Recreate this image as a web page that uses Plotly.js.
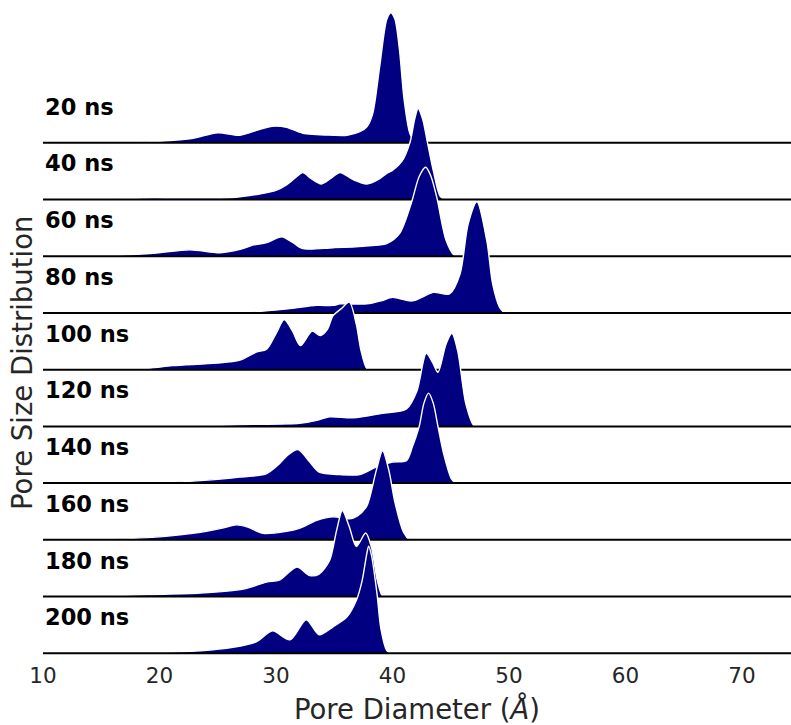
<!DOCTYPE html>
<html>
<head>
<meta charset="utf-8">
<script src="https://cdn.plot.ly/plotly-3.0.1.min.js"></script>
<style>
  html, body { margin: 0; padding: 0; background: #ffffff; }
  #chart { width: 791px; height: 725px; }
</style>
</head>
<body>
<div id="chart"></div>
<script>
// Simulation snapshots, top row first
const timeLabels = ['20 ns', '40 ns', '60 ns', '80 ns', '100 ns', '120 ns', '140 ns', '160 ns', '180 ns', '200 ns'];

// Kernel density estimates of the pore diameter (Å) at each snapshot
const dia20  = [15.0, 17.5, 20.0, 22.9, 25.0, 26.9, 28.5, 29.7, 30.9, 32.3, 34.9, 36.1, 37.2, 37.8, 38.3, 38.9, 39.5, 39.85, 40.2, 40.6, 41.0, 41.5, 42.0];
const kde20  = [0, 0.001, 0.003, 0.009, 0.020, 0.015, 0.026, 0.033, 0.031, 0.019, 0.015, 0.015, 0.022, 0.032, 0.058, 0.152, 0.246, 0.260, 0.248, 0.186, 0.086, 0.018, 0];

const dia40  = [15.0, 18.6, 22.0, 26.3, 28.6, 30.0, 30.9, 31.7, 32.3, 33.0, 33.9, 34.7, 35.5, 36.6, 37.8, 38.8, 39.5, 40.0, 40.8, 41.5, 41.9, 42.2, 42.6, 43.0, 43.5, 44.1, 44.5];
const kde40  = [0, 0.003, 0.003, 0.004, 0.011, 0.018, 0.029, 0.044, 0.054, 0.042, 0.031, 0.042, 0.054, 0.040, 0.031, 0.040, 0.052, 0.058, 0.076, 0.114, 0.160, 0.182, 0.160, 0.114, 0.058, 0.006, 0];

const dia60  = [14.0, 16.6, 19.5, 22.6, 25.2, 27.0, 28.0, 29.2, 30.5, 31.4, 32.3, 34.9, 37.5, 39.5, 40.6, 41.6, 42.3, 42.85, 43.3, 43.8, 44.6, 45.3, 45.6];
const kde60  = [0, 0.002, 0.006, 0.013, 0.007, 0.014, 0.022, 0.027, 0.039, 0.028, 0.015, 0.017, 0.020, 0.025, 0.045, 0.105, 0.160, 0.178, 0.160, 0.118, 0.032, 0.002, 0];

const dia80  = [24.0, 28.0, 31.0, 33.5, 34.9, 35.5, 37.8, 39.0, 40.0, 41.7, 43.5, 44.9, 45.8, 46.5, 47.25, 48.1, 48.6, 49.2, 49.6];
const kde80  = [0, 0.002, 0.008, 0.015, 0.015, 0.018, 0.018, 0.024, 0.031, 0.024, 0.041, 0.038, 0.078, 0.178, 0.222, 0.144, 0.058, 0.011, 0];

const dia100 = [16.0, 19.2, 21.1, 24.9, 26.9, 28.3, 29.2, 30.0, 30.7, 31.4, 32.1, 33.1, 33.8, 34.4, 34.9, 35.6, 36.3, 36.9, 37.3, 37.8, 38.1];
const kde100 = [0, 0.003, 0.008, 0.013, 0.019, 0.035, 0.041, 0.072, 0.100, 0.078, 0.048, 0.077, 0.068, 0.080, 0.108, 0.122, 0.135, 0.090, 0.038, 0.002, 0];

const dia120 = [20.0, 23.5, 28.0, 32.0, 33.5, 34.6, 36.6, 39.1, 41.2, 42.1, 42.9, 43.5, 43.9, 44.6, 45.1, 45.6, 46.3, 47.0, 47.2];
const kde120 = [0, 0.001, 0.004, 0.006, 0.012, 0.019, 0.017, 0.026, 0.035, 0.071, 0.146, 0.125, 0.108, 0.165, 0.186, 0.151, 0.045, 0.001, 0];

const dia140 = [18.0, 20.6, 23.5, 25.7, 26.9, 28.0, 29.2, 30.3, 31.0, 31.9, 32.9, 33.7, 35.5, 37.2, 38.6, 40.0, 41.2, 41.7, 42.3, 42.7, 43.1, 43.5, 43.9, 44.4, 45.05, 45.4];
const kde140 = [0, 0.001, 0.005, 0.009, 0.012, 0.014, 0.019, 0.039, 0.056, 0.067, 0.042, 0.022, 0.017, 0.017, 0.032, 0.042, 0.045, 0.072, 0.114, 0.160, 0.180, 0.160, 0.114, 0.058, 0.009, 0];

const dia160 = [14.0, 17.7, 20.5, 23.5, 25.5, 26.6, 27.5, 28.9, 30.9, 32.0, 33.5, 34.9, 36.3, 37.0, 37.8, 38.6, 39.15, 39.7, 40.2, 40.9, 41.4];
const kde160 = [0, 0.003, 0.007, 0.015, 0.024, 0.030, 0.026, 0.013, 0.017, 0.023, 0.039, 0.046, 0.042, 0.048, 0.068, 0.138, 0.178, 0.138, 0.076, 0.018, 0];

const dia180 = [12.0, 14.9, 19.0, 23.5, 27.2, 29.2, 30.3, 31.8, 32.9, 33.7, 34.6, 35.2, 35.7, 36.3, 36.9, 37.7, 38.2, 38.7, 39.1, 39.3];
const kde180 = [0, 0.001, 0.004, 0.007, 0.015, 0.029, 0.033, 0.059, 0.042, 0.045, 0.072, 0.132, 0.172, 0.139, 0.100, 0.127, 0.098, 0.032, 0.002, 0];

const dia200 = [15.0, 19.2, 23.5, 26.3, 28.3, 29.7, 31.2, 32.6, 33.7, 34.9, 36.1, 36.9, 37.4, 37.8, 37.95, 38.2, 38.5, 38.7, 39.0, 39.5, 39.8];
const kde200 = [0, 0.001, 0.005, 0.012, 0.023, 0.045, 0.027, 0.067, 0.037, 0.053, 0.073, 0.106, 0.146, 0.200, 0.214, 0.196, 0.150, 0.114, 0.050, 0.006, 0];

const diameters = [dia20, dia40, dia60, dia80, dia100, dia120, dia140, dia160, dia180, dia200];
const densities = [kde20, kde40, kde60, kde80, kde100, kde120, kde140, kde160, kde180, kde200];

const xTicks = [10, 20, 30, 40, 50, 60, 70];

// Layout of the ridges
const X_MIN = 10, X_MAX = 74.21;
const ROW_STEP = 0.11346;          // vertical distance between neighbouring baselines
const LABEL_RISE = 0.072;          // label height above its baseline
const FILL = '#000080';
const nRows = timeLabels.length;

const traces = [];
const annotations = [];

for (let i = 0; i < nRows; i++) {
  const base = (nRows - 1 - i) * ROW_STEP;
  const xs = diameters[i];
  const ys = densities[i].map(d => base + d);

  // filled ridge with a thin white edge
  traces.push({
    type: 'scatter', mode: 'lines',
    x: xs, y: ys,
    fill: 'toself', fillcolor: FILL,
    line: { color: '#ffffff', width: 1.4, shape: 'spline', smoothing: 0.8 },
    hoverinfo: 'skip', showlegend: false
  });

  // baseline of this ridge
  traces.push({
    type: 'scatter', mode: 'lines',
    x: [X_MIN, X_MAX], y: [base, base],
    line: { color: '#000000', width: 2 },
    hoverinfo: 'skip', showlegend: false
  });

  annotations.push({
    xref: 'x', yref: 'y',
    x: X_MIN, y: base + LABEL_RISE,
    xanchor: 'left', yanchor: 'middle',
    text: '<b>' + timeLabels[i] + '</b>',
    showarrow: false,
    font: { family: 'DejaVu Sans', size: 22.5, color: '#000000' }
  });
}

const plotTop = 0, plotHeight = 660;
annotations.push({
  xref: 'paper', yref: 'paper',
  x: (22 - 43) / 748, y: 1 - (363 - plotTop) / plotHeight,
  xanchor: 'center', yanchor: 'middle',
  textangle: -90,
  text: 'Pore Size Distribution',
  showarrow: false,
  font: { family: 'DejaVu Sans', size: 27.5, color: '#262626' }
});

const layout = {
  width: 791, height: 725,
  margin: { l: 43, r: 0, t: 0, b: 65 },
  paper_bgcolor: '#ffffff', plot_bgcolor: '#ffffff',
  showlegend: false,
  hovermode: false,
  font: { family: 'DejaVu Sans', color: '#262626' },
  xaxis: {
    range: [X_MIN, X_MAX],
    tickmode: 'array', tickvals: xTicks, ticktext: xTicks.map(String),
    showgrid: false, zeroline: false, showline: false,
    ticks: '',
    tickfont: { family: 'DejaVu Sans', size: 21.5, color: '#262626' },
    title: { text: 'Pore Diameter (<i>Å</i>)', font: { family: 'DejaVu Sans', size: 27.5, color: '#262626' }, standoff: 13 },
    automargin: false, fixedrange: true
  },
  yaxis: {
    range: [-0.0134, 1.3066],
    visible: false, showgrid: false, zeroline: false, fixedrange: true
  },
  annotations: annotations
};

Plotly.newPlot('chart', traces, layout, { displayModeBar: false, staticPlot: true });
</script>
</body>
</html>
